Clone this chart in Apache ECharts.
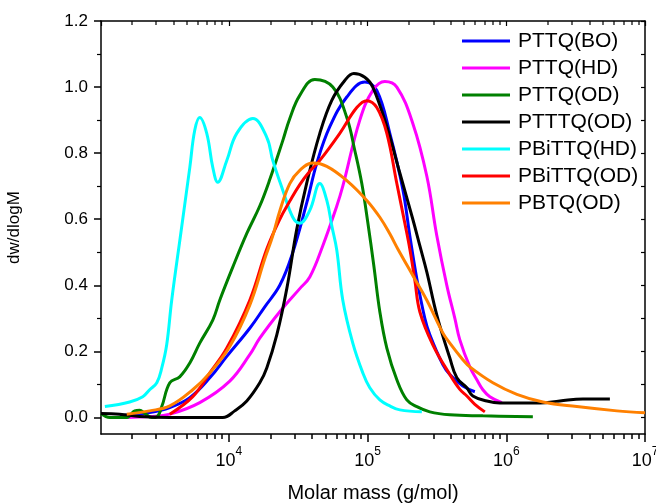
<!DOCTYPE html>
<html>
<head>
<meta charset="utf-8">
<script src="https://cdn.jsdelivr.net/npm/echarts@6/dist/echarts.min.js"></script>
<style>
  html, body { margin: 0; padding: 0; background: #ffffff; }
  #chart { width: 656px; height: 504px; }
</style>
</head>
<body>
<div id="chart"></div>
<script>
// GPC molar mass distributions (dw/dlogM versus molar mass in g/mol)

const seriesNames = ['PTTQ(BO)', 'PTTQ(HD)', 'PTTQ(OD)', 'PTTTQ(OD)', 'PBiTTQ(HD)', 'PBiTTQ(OD)', 'PBTQ(OD)'];
const seriesColors = ['#0000ff', '#ff00ff', '#008000', '#000000', '#00ffff', '#ff0000', '#ff8000'];

// PTTQ(BO)
const massPTTQ_BO = [1640, 2690, 3760, 5240, 7300, 9680, 14170, 18180, 23320, 28460, 36500, 43110, 53480, 70920, 95610, 116700, 144800, 179700, 201800, 226700, 258900, 281400, 349000, 392100, 486600, 593800];
const dwPTTQ_BO   = [0.005, 0.015, 0.03, 0.06, 0.12, 0.185, 0.27, 0.335, 0.40, 0.49, 0.65, 0.77, 0.88, 0.97, 1.015, 0.99, 0.86, 0.69, 0.55, 0.42, 0.30, 0.25, 0.16, 0.13, 0.095, 0.078];

// PTTQ(HD)
const massPTTQ_HD = [1840, 2690, 3760, 6180, 10170, 14170, 16730, 23320, 32500, 38370, 47620, 60070, 66360, 88000, 109200, 133300, 162700, 212100, 267700, 315900, 372900, 426100, 462900, 546500, 613900, 678300, 761900, 929500];
const dwPTTQ_HD   = [0.0, 0.003, 0.01, 0.045, 0.11, 0.19, 0.24, 0.32, 0.39, 0.425, 0.52, 0.64, 0.70, 0.90, 0.99, 1.017, 1.0, 0.89, 0.73, 0.55, 0.40, 0.30, 0.235, 0.153, 0.114, 0.084, 0.063, 0.045];

// PTTQ(OD)
const massPTTQ_OD = [1200, 1390, 1840, 2100, 2280, 2480, 2790, 3030, 3290, 3760, 4430, 5240, 6180, 7670, 8610, 10690, 13490, 16730, 19750, 24510, 27540, 32500, 41690, 56210, 70920, 80990, 90970, 100500, 111000, 122700, 137800, 162700, 192000, 226700, 281400, 392100, 678300, 1555000];
const dwPTTQ_OD   = [0.012, 0.0, 0.0, 0.02, 0.022, 0.012, 0.0, 0.002, 0.033, 0.105, 0.123, 0.165, 0.225, 0.295, 0.355, 0.455, 0.557, 0.64, 0.72, 0.838, 0.905, 0.975, 1.023, 1.0, 0.908, 0.808, 0.708, 0.59, 0.46, 0.32, 0.21, 0.114, 0.053, 0.033, 0.017, 0.008, 0.005, 0.002];

// PTTTQ(OD)
const massPTTTQ_OD = [1200, 1640, 2280, 3760, 9060, 11040, 13490, 16730, 18790, 22190, 26200, 30920, 36500, 45310, 55280, 68600, 79650, 95610, 109200, 137800, 171000, 212100, 238300, 267700, 315900, 392100, 440400, 519800, 574400, 724800, 899000, 1747000, 2434000, 3567000, 5584000];
const dwPTTTQ_OD   = [0.012, 0.01, 0.003, 0.0, 0.0, 0.02, 0.05, 0.105, 0.15, 0.25, 0.39, 0.57, 0.71, 0.86, 0.96, 1.02, 1.041, 1.03, 1.0, 0.88, 0.74, 0.60, 0.52, 0.44, 0.31, 0.18, 0.12, 0.09, 0.065, 0.05, 0.044, 0.044, 0.05, 0.056, 0.056];

// PBiTTQ(HD)
const massPBiTTQ_HD = [1280, 1930, 2400, 2690, 3030, 3290, 3570, 3880, 4510, 5240, 5690, 6180, 6940, 7670, 8330, 9680, 11420, 14900, 18790, 20760, 24510, 28930, 32500, 38370, 45310, 50890, 55280, 60070, 66360, 78340, 92490, 103900, 122700, 144800, 171000, 246400];
const dwPBiTTQ_HD   = [0.033, 0.047, 0.063, 0.084, 0.105, 0.15, 0.22, 0.355, 0.557, 0.757, 0.87, 0.908, 0.86, 0.757, 0.712, 0.778, 0.86, 0.905, 0.848, 0.778, 0.688, 0.606, 0.588, 0.627, 0.708, 0.657, 0.58, 0.506, 0.355, 0.225, 0.135, 0.09, 0.053, 0.035, 0.023, 0.017];

// PBiTTQ(OD)
const massPBiTTQ_OD = [3760, 5500, 7300, 9680, 14170, 18790, 23320, 27540, 32500, 38370, 45310, 63140, 83730, 98850, 116700, 137800, 162700, 185800, 201800, 219300, 238300, 295700, 392100, 462900, 519800, 593800, 701200];
const dwPBiTTQ_OD   = [0.01, 0.063, 0.135, 0.21, 0.355, 0.51, 0.60, 0.655, 0.705, 0.745, 0.778, 0.86, 0.938, 0.959, 0.938, 0.86, 0.708, 0.588, 0.51, 0.416, 0.32, 0.22, 0.13, 0.085, 0.065, 0.04, 0.017];

// PBTQ(OD)
const massPBTQ_OD = [1840, 2690, 3760, 5500, 7300, 10170, 14170, 18180, 20760, 23320, 27540, 32500, 40330, 50890, 70920, 98850, 122700, 144800, 165400, 212100, 267700, 349000, 392100, 486600, 546500, 800900, 1192000, 1836000, 3228000, 6272000, 10000000];
const dwPBTQ_OD   = [0.01, 0.02, 0.035, 0.084, 0.135, 0.215, 0.34, 0.48, 0.55, 0.625, 0.708, 0.748, 0.77, 0.76, 0.717, 0.657, 0.606, 0.556, 0.51, 0.43, 0.355, 0.256, 0.225, 0.175, 0.153, 0.105, 0.07, 0.047, 0.033, 0.02, 0.014];

// Axis ranges and ticks
const massMin = 1200;
const massMax = 1e7;
const massMinorTicks = [];
for (let decade = 1e3; decade < 1e7; decade *= 10) {
  for (let k = 2; k <= 9; k++) {
    const v = k * decade;
    if (v > massMin && v < massMax) massMinorTicks.push(v);
  }
}
const dwMin = -0.05;
const dwMax = 1.2;
const dwMajorTicks = [0.0, 0.2, 0.4, 0.6, 0.8, 1.0, 1.2];
const dwMinorTicks = [0.1, 0.3, 0.5, 0.7, 0.9, 1.1];
const dwAllTicks = [0.0, 0.1, 0.2, 0.3, 0.4, 0.5, 0.6, 0.7, 0.8, 0.9, 1.0, 1.1, 1.2];

const massSets = [massPTTQ_BO, massPTTQ_HD, massPTTQ_OD, massPTTTQ_OD, massPBiTTQ_HD, massPBiTTQ_OD, massPBTQ_OD];
const dwSets = [dwPTTQ_BO, dwPTTQ_HD, dwPTTQ_OD, dwPTTTQ_OD, dwPBiTTQ_HD, dwPBiTTQ_OD, dwPBTQ_OD];

const FONT = 'Arial, "Liberation Sans", Helvetica, sans-serif';
const AXIS_COLOR = '#000000';
const plotRect = { left: 101, right: 11, top: 21, bottom: 70, containLabel: false, outerBoundsMode: 'none' };

function logAxis(extra) {
  return Object.assign({
    type: 'log',
    logBase: 10,
    min: massMin,
    max: massMax,
    splitLine: { show: false },
    minorTick: { show: false },
    axisLine: { show: false, onZero: false },
    axisLabel: { show: false },
    axisTick: { show: false }
  }, extra);
}

function valueAxis(extra) {
  return Object.assign({
    type: 'value',
    min: dwMin,
    max: dwMax,
    splitLine: { show: false },
    axisLine: { show: false, onZero: false },
    axisLabel: { show: false },
    axisTick: { show: false }
  }, extra);
}

// Short 2..9 minor ticks on the log mass axis: outward at the bottom, inward at the top
function renderMinorMassTick(params, api) {
  const m = api.value(0);
  const bottom = api.coord([m, dwMin]);
  const top = api.coord([m, dwMax]);
  const x = Math.round(bottom[0]);
  const yb = Math.round(bottom[1]);
  const yt = Math.round(top[1]);
  return {
    type: 'group',
    children: [
      { type: 'line', shape: { x1: x, y1: yb, x2: x, y2: yb + 5 }, style: { stroke: AXIS_COLOR, lineWidth: 1.5 } },
      { type: 'line', shape: { x1: x, y1: yt, x2: x, y2: yt + 4 }, style: { stroke: AXIS_COLOR, lineWidth: 1.2 } }
    ]
  };
}

const chart = echarts.init(document.getElementById('chart'), null, { renderer: 'canvas' });

const lineSeries = seriesNames.map(function (name, i) {
  return {
    name: name,
    type: 'line',
    xAxisIndex: 0,
    yAxisIndex: 0,
    data: massSets[i].map(function (m, j) { return [m, dwSets[i][j]]; }),
    symbol: 'none',
    smooth: 0.4,
    clip: true,
    color: seriesColors[i],
    lineStyle: { color: seriesColors[i], width: 3 }
  };
});

const option = {
  animation: false,
  backgroundColor: '#ffffff',
  // grid 0 carries the data, major ticks and frame; grid 1 (same rect) carries the minor dw ticks
  grid: [Object.assign({}, plotRect), Object.assign({}, plotRect)],
  legend: {
    data: seriesNames,
    orient: 'vertical',
    left: 457,
    top: 25,
    icon: 'rect',
    itemWidth: 48,
    itemHeight: 3,
    itemGap: 5,
    padding: 5,
    textStyle: { fontFamily: FONT, fontSize: 21, color: '#000', lineHeight: 22, padding: [0, 0, 0, 3] }
  },
  xAxis: [
    logAxis({
      gridIndex: 0,
      position: 'bottom',
      axisLine: { show: true, onZero: false, lineStyle: { color: AXIS_COLOR, width: 1.5 } },
      axisTick: { show: true, inside: false, length: 8, lineStyle: { color: AXIS_COLOR, width: 1.5 } },
      axisLabel: {
        show: true,
        margin: 12,
        showMinLabel: false,
        formatter: function (v) { return '{b|10}{s|' + Math.round(Math.log10(v)) + '}'; },
        rich: {
          b: { fontFamily: FONT, fontSize: 18, color: '#000', lineHeight: 24, verticalAlign: 'bottom' },
          s: { fontFamily: FONT, fontSize: 12, color: '#000', lineHeight: 12, verticalAlign: 'top' }
        }
      },
      name: 'Molar mass (g/mol)',
      nameLocation: 'middle',
      nameGap: 49,
      nameTextStyle: { fontFamily: FONT, fontSize: 20, color: '#000' }
    }),
    logAxis({
      gridIndex: 0,
      position: 'top',
      axisLine: { show: true, onZero: false, lineStyle: { color: AXIS_COLOR, width: 1.5 } },
      axisTick: { show: true, inside: true, length: 5, lineStyle: { color: AXIS_COLOR, width: 1.2 } }
    }),
    logAxis({
      gridIndex: 1,
      position: 'bottom'
    })
  ],
  yAxis: [
    valueAxis({
      gridIndex: 0,
      position: 'left',
      axisLine: { show: true, onZero: false, lineStyle: { color: AXIS_COLOR, width: 1.5 } },
      axisTick: { show: true, inside: false, length: 7, customValues: dwMajorTicks, lineStyle: { color: AXIS_COLOR, width: 1.5 } },
      axisLabel: {
        show: true,
        margin: 13,
        customValues: dwMajorTicks,
        fontFamily: FONT,
        fontSize: 17,
        color: '#000',
        formatter: function (v) { return Number(v).toFixed(1); }
      },
      name: 'dw/dlogM',
      nameLocation: 'middle',
      nameGap: 78,
      nameRotate: 90,
      nameTextStyle: { fontFamily: FONT, fontSize: 17, color: '#000' }
    }),
    valueAxis({
      gridIndex: 0,
      position: 'right',
      axisLine: { show: true, onZero: false, lineStyle: { color: AXIS_COLOR, width: 1.5 } },
      axisTick: { show: true, inside: true, length: 4, customValues: dwAllTicks, lineStyle: { color: AXIS_COLOR, width: 1.2 } }
    }),
    valueAxis({
      gridIndex: 1,
      position: 'left',
      axisTick: { show: true, inside: false, length: 4, customValues: dwMinorTicks, lineStyle: { color: AXIS_COLOR, width: 1.2 } }
    })
  ],
  series: lineSeries.concat([{
    name: 'mass minor ticks',
    type: 'custom',
    coordinateSystem: 'cartesian2d',
    xAxisIndex: 0,
    yAxisIndex: 0,
    clip: false,
    silent: true,
    z: 10,
    encode: { x: 0, y: 1 },
    data: massMinorTicks.map(function (v) { return [v, dwMin]; }),
    renderItem: renderMinorMassTick
  }])
};

chart.setOption(option);
</script>
</body>
</html>
